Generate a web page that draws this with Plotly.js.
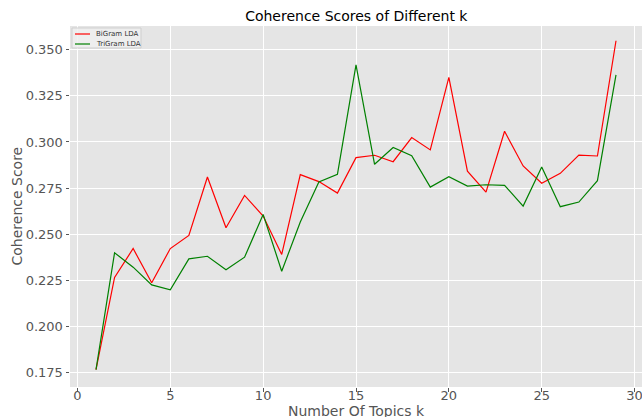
<!DOCTYPE html>
<html>
<head>
<meta charset="utf-8">
<script src="https://cdn.plot.ly/plotly-3.0.1.min.js"></script>
<style>html,body{margin:0;padding:0;background:#fff;}#chart{width:642px;height:417px;}</style>
</head>
<body>
<div id="chart"></div>
<script>
const topicsK = [1,2,3,4,5,6,7,8,9,10,11,12,13,14,15,16,17,18,19,20,21,22,23,24,25,26,27,28,29];
const bigramScores = [0.1765,0.2265,0.2422,0.2236,0.2422,0.2493,0.2810,0.2535,0.2710,0.2598,0.2390,0.2823,0.2785,0.2723,0.2915,0.2928,0.2893,0.3024,0.2957,0.3350,0.2842,0.2728,0.3058,0.2870,0.2776,0.2830,0.2929,0.2924,0.3549];
const trigramScores = [0.1765,0.2399,0.2321,0.2225,0.2198,0.2366,0.2380,0.2307,0.2375,0.2607,0.2299,0.2566,0.2783,0.2824,0.3418,0.2879,0.2970,0.2926,0.2755,0.2812,0.2761,0.2768,0.2765,0.2652,0.2864,0.2649,0.2674,0.2790,0.3364];
const seriesNames = ['BiGram LDA', 'TriGram LDA'];
const seriesColors = ['#ff0000', '#008000'];
const yTicks = [0.175,0.200,0.225,0.250,0.275,0.300,0.325,0.350];
const xTicks = [0,5,10,15,20,25,30];

const font = 'DejaVu Sans, sans-serif';
const traces = [
  {x: topicsK, y: bigramScores, type: 'scatter', mode: 'lines', name: seriesNames[0], line: {color: seriesColors[0], width: 1.2}},
  {x: topicsK, y: trigramScores, type: 'scatter', mode: 'lines', name: seriesNames[1], line: {color: seriesColors[1], width: 1.2}}
];

// compact matplotlib-style legend (plot area is 572 x 361 px)
const PW = 572, PH = 361;
const px = v => v / PW, py = v => 1 - v / PH;
const shapes = [
  {type: 'rect', xref: 'paper', yref: 'paper', x0: px(2), x1: px(71), y0: py(22), y1: py(2),
   fillcolor: 'rgba(240,240,240,0.85)', line: {color: '#cfcfcf', width: 1}, layer: 'above'}
];
const annotations = [];
seriesNames.forEach((n, i) => {
  const yy = 8 + i * 10;
  shapes.push({type: 'line', xref: 'paper', yref: 'paper', x0: px(5), x1: px(20), y0: py(yy), y1: py(yy),
    line: {color: seriesColors[i], width: 1.2}, layer: 'above'});
  annotations.push({xref: 'paper', yref: 'paper', x: px(24), y: py(yy), xanchor: 'left', yanchor: 'middle',
    text: n, showarrow: false, font: {family: font, size: 7, color: '#333333'}});
});
annotations.push({xref: 'paper', yref: 'paper', x: 0.5, y: -(411 - 387) / PH, xanchor: 'center', yanchor: 'middle',
  text: 'Number Of Topics k', showarrow: false, font: {family: font, size: 14, color: '#555555'}});
annotations.push({xref: 'paper', yref: 'paper', x: -(70 - 16) / PW, y: 0.5, xanchor: 'center', yanchor: 'middle', textangle: -90,
  text: 'Coherence Score', showarrow: false, font: {family: font, size: 14, color: '#555555'}});

const layout = {
  width: 642, height: 417,
  margin: {l: 70, r: 0, t: 26, b: 30, pad: 0},
  paper_bgcolor: '#ffffff',
  plot_bgcolor: '#e5e5e5',
  font: {family: font, color: '#555555', size: 13},
  title: {text: 'Coherence Scores of Different k', font: {family: font, size: 14, color: '#000000'}, x: 0.555, xanchor: 'center', y: 1 - 16 / 417, yanchor: 'middle'},
  xaxis: {
    range: [-0.4, 30.4], tickvals: xTicks, ticktext: xTicks.map(String),
    showgrid: true, gridcolor: '#ffffff', gridwidth: 1, zeroline: false,
    ticks: 'outside', ticklen: 3.5, tickcolor: '#555555', showline: false,
    tickfont: {family: font, size: 13, color: '#555555'},
    ticklabeloverflow: 'allow', ticklabelstandoff: -7,
    automargin: false
  },
  yaxis: {
    range: [0.1671, 0.3629], tickvals: yTicks, ticktext: yTicks.map(v => v.toFixed(3)),
    showgrid: true, gridcolor: '#ffffff', gridwidth: 1, zeroline: false,
    ticks: 'outside', ticklen: 3.5, tickcolor: '#555555', showline: false,
    tickfont: {family: font, size: 13, color: '#555555'},
    automargin: false
  },
  showlegend: false,
  shapes: shapes,
  annotations: annotations
};
Plotly.newPlot('chart', traces, layout, {displayModeBar: false, staticPlot: true});
</script>
</body>
</html>
